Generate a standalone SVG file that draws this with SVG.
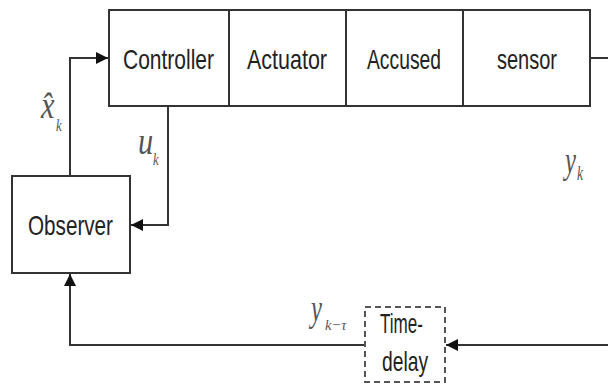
<svg xmlns="http://www.w3.org/2000/svg" width="608" height="385" viewBox="0 0 608 385">
<style>
.box{fill:#fff;stroke:#333;stroke-width:2}
.dash{fill:#fff;stroke:#555;stroke-width:2;stroke-dasharray:6,4}
.lbl{font-family:"Liberation Sans",Arial,sans-serif;font-size:28px;fill:#222}
.line{fill:none;stroke:#333;stroke-width:2}
.math{font-family:"Liberation Serif","Times New Roman",serif;font-style:italic;fill:#555;font-size:38px}
.sub{font-family:"Liberation Serif","Times New Roman",serif;font-style:italic;fill:#555;font-size:17px}
</style>
<defs>
<marker id="ah" viewBox="0 0 12 12" refX="12" refY="6" markerWidth="12" markerHeight="12" markerUnits="userSpaceOnUse" orient="auto">
<path d="M0,0 L12,6 L0,12 z" fill="#111"/>
</marker>
</defs>
<g id="connectors">
<path class="line" d="M70,176 V58 H108" marker-end="url(#ah)"/>
<path class="line" d="M168,106 V225 H131" marker-end="url(#ah)"/>
<path class="line" d="M365,345 H70 V274" marker-end="url(#ah)"/>
<path class="line" d="M608,345 H446" marker-end="url(#ah)"/>
<path class="line" d="M590,58 H608"/>
</g>
<g id="controller"><rect class="box" x="109" y="10" width="120" height="96"/><text class="lbl" x="123" y="69" textLength="91" lengthAdjust="spacingAndGlyphs">Controller</text></g>
<g id="actuator"><rect class="box" x="229" y="10" width="117" height="96"/><text class="lbl" x="247" y="69" textLength="80" lengthAdjust="spacingAndGlyphs">Actuator</text></g>
<g id="accused"><rect class="box" x="346" y="10" width="117" height="96"/><text class="lbl" x="367" y="69" textLength="74" lengthAdjust="spacingAndGlyphs">Accused</text></g>
<g id="sensor"><rect class="box" x="463" y="10" width="127" height="96"/><text class="lbl" x="497" y="69" textLength="60" lengthAdjust="spacingAndGlyphs">sensor</text></g>
<g id="observer"><rect class="box" x="12" y="176" width="118" height="97"/><text class="lbl" x="28" y="235" textLength="85" lengthAdjust="spacingAndGlyphs">Observer</text></g>
<g id="timedelay"><rect class="dash" x="365" y="307" width="80" height="75"/><text class="lbl" x="380" y="333" textLength="43" lengthAdjust="spacingAndGlyphs">Time-</text><text class="lbl" x="382" y="371" textLength="46" lengthAdjust="spacingAndGlyphs">delay</text></g>
<g id="labels">
<text class="math" x="0" y="0" transform="translate(41,118) scale(0.8,1)">x̂</text>
<text class="sub" x="0" y="0" transform="translate(56,131) scale(0.75,1)">k</text>
<text class="math" x="0" y="0" transform="translate(138,154) scale(0.8,1)">u</text>
<text class="sub" x="0" y="0" transform="translate(153,165) scale(0.75,1)">k</text>
<text class="math" x="0" y="0" transform="translate(565,173) scale(0.65,1)">y</text>
<text class="sub" x="0" y="0" transform="translate(577,180) scale(0.8,1.2)">k</text>
<text class="math" x="0" y="0" transform="translate(311,321) scale(0.65,1)">y</text>
<text class="sub" x="0" y="0" transform="translate(325,330) scale(0.85,0.9)">k−τ</text>
</g>
</svg>
